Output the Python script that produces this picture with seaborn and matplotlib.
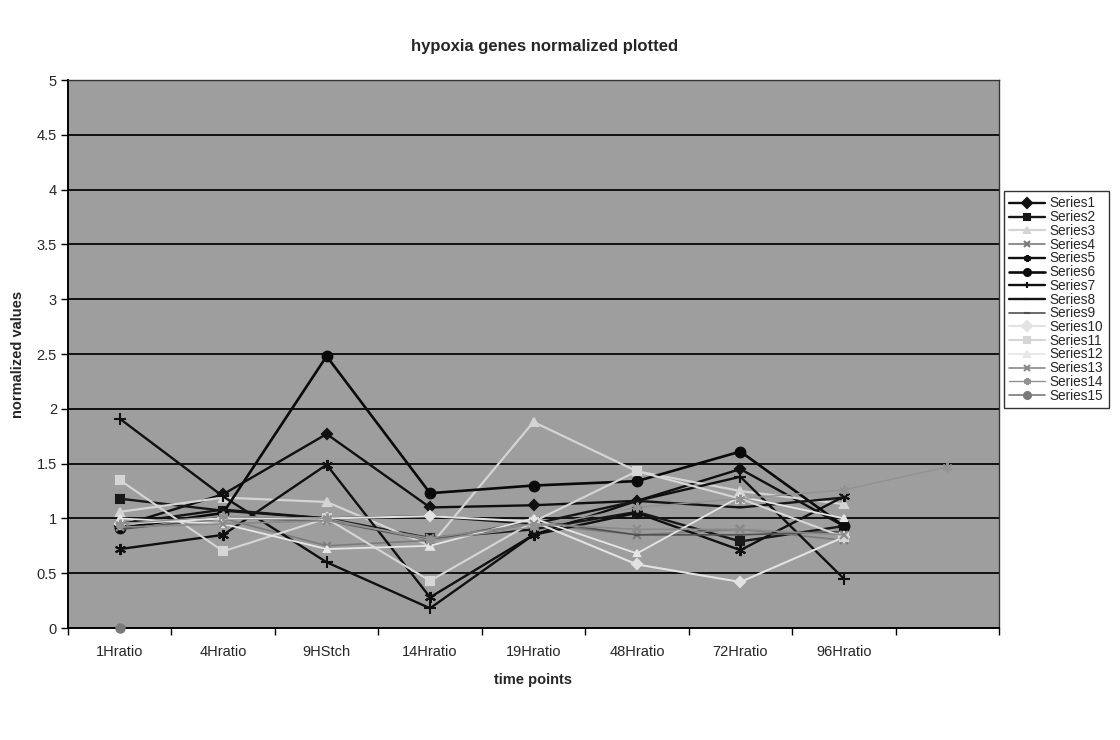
import numpy as np
import pandas as pd
import matplotlib
matplotlib.use("Agg")
import matplotlib.pyplot as plt
import seaborn as sns

# Time points on the category axis (the last slot is left unlabeled)
time_points = ["1Hratio", "4Hratio", "9HStch", "14Hratio", "19Hratio",
               "48Hratio", "72Hratio", "96Hratio", ""]

nan = np.nan
series1 = [0.93, 1.22, 1.77, 1.10, 1.12, 1.16, 1.45, 0.93, nan]
series2 = [1.18, 1.07, 1.00, 0.82, 0.90, 1.06, 0.79, 0.93, nan]
series3 = [1.06, 1.19, 1.15, 0.75, 1.88, 1.43, 1.25, 1.13, nan]
series4 = [0.95, 1.00, 0.75, 0.80, 0.95, 0.85, 0.90, 0.80, nan]
series5 = [0.72, 0.85, 1.49, 0.28, 0.85, 1.05, 0.71, 1.20, nan]
series6 = [0.91, 1.05, 2.48, 1.23, 1.30, 1.34, 1.61, 0.93, nan]
series7 = [1.91, 1.20, 0.60, 0.18, 0.85, 1.16, 1.38, 0.45, nan]
series8 = [0.95, 1.08, 1.00, 1.02, 0.95, 1.16, 1.10, 1.19, nan]
series9 = [0.90, 1.00, 0.98, 0.80, 0.98, 0.85, 0.85, 0.88, nan]
series10 = [0.95, 1.00, 1.00, 1.02, 0.97, 0.58, 0.42, 0.83, nan]
series11 = [1.35, 0.70, 1.00, 0.43, 0.97, 1.43, 1.18, 0.83, nan]
series12 = [1.00, 0.95, 0.72, 0.75, 1.00, 0.68, 1.20, 1.00, nan]
series13 = [0.92, 0.95, 0.98, 0.82, 0.95, 0.90, 0.90, 0.85, nan]
series14 = [0.95, 1.02, 1.00, 0.80, 0.92, 1.10, 1.18, 1.26, 1.47]
series15 = [0.00, nan, nan, nan, nan, nan, nan, nan, nan]

series_names = [f"Series{i}" for i in range(1, 16)]
series_values = [series1, series2, series3, series4, series5, series6, series7,
                 series8, series9, series10, series11, series12, series13,
                 series14, series15]

# Grayscale Excel-like marker/colour scheme
asterisk = (6, 2, 0)
styles = {
    "Series1": dict(color="#101010", marker="D", ms=5, lw=1.7),
    "Series2": dict(color="#181818", marker="s", ms=6, lw=1.7),
    "Series3": dict(color="#d4d4d4", marker="^", ms=6, lw=1.6),
    "Series4": dict(color="#7c7c7c", marker="x", ms=6, lw=1.2),
    "Series5": dict(color="#101010", marker=asterisk, ms=8, lw=1.7),
    "Series6": dict(color="#0a0a0a", marker="o", ms=7, lw=1.9),
    "Series7": dict(color="#101010", marker="+", ms=8, lw=1.7),
    "Series8": dict(color="#151515", marker="_", ms=5, lw=1.7),
    "Series9": dict(color="#505050", marker="_", ms=5, lw=1.2),
    "Series10": dict(color="#e2e2e2", marker="D", ms=5, lw=1.5),
    "Series11": dict(color="#d6d6d6", marker="s", ms=6, lw=1.5),
    "Series12": dict(color="#e6e6e6", marker="^", ms=5, lw=1.3),
    "Series13": dict(color="#8a8a8a", marker="x", ms=6, lw=1.2),
    "Series14": dict(color="#929292", marker=asterisk, ms=7, lw=1.0),
    "Series15": dict(color="#7a7a7a", marker="o", ms=6, lw=1.2),
}

records = []
for name, vals in zip(series_names, series_values):
    for pos, v in enumerate(vals):
        records.append({"series": name, "pos": pos, "value": v})
df = pd.DataFrame(records)

sns.set_theme(style="white")
plt.rcParams["font.family"] = ["Liberation Sans", "DejaVu Sans"]

fig = plt.figure(figsize=(11.2, 7.4), dpi=100)
ax = fig.add_axes([68 / 1120, 1 - 628 / 740, (999 - 68) / 1120, (628 - 80) / 740])
ax.set_facecolor("#9e9e9e")

for name in series_names:
    st = styles[name]
    sub = df[df["series"] == name].dropna()
    sns.lineplot(data=sub, x="pos", y="value", ax=ax, color=st["color"],
                 marker=st["marker"], markersize=st["ms"], linewidth=st["lw"],
                 markeredgecolor=st["color"], markerfacecolor=st["color"],
                 markeredgewidth=1.5, label=name, sort=False, zorder=3,
                 clip_on=False)

# Axis ranges and ticks
ax.set_xlim(-0.5, len(time_points) - 0.5)
ax.set_ylim(0, 5)
ax.set_yticks(np.arange(0, 5.01, 0.5))
ax.set_yticklabels(["0", "0.5", "1", "1.5", "2", "2.5", "3", "3.5", "4", "4.5", "5"],
                   fontsize=10.5)
ax.set_xticks(range(len(time_points)))
ax.set_xticklabels(time_points, fontsize=10.5)
ax.set_xticks(np.arange(-0.5, len(time_points), 1.0), minor=True)
ax.tick_params(axis="x", which="major", length=0, pad=12)
ax.tick_params(axis="x", which="minor", length=5, width=1, color="black",
               direction="out", bottom=True)
ax.tick_params(axis="y", which="major", length=5, width=1, color="black",
               direction="out", left=True, pad=3)

# Horizontal gridlines
for yv in np.arange(0.5, 5.01, 0.5):
    ax.axhline(yv, color="#111111", lw=1.4, zorder=1)

for side in ["left", "bottom"]:
    ax.spines[side].set_color("black")
    ax.spines[side].set_linewidth(1.4)
for side in ["top", "right"]:
    ax.spines[side].set_color("#333333")
    ax.spines[side].set_linewidth(1.0)

ax.set_xlabel("time points", fontsize=10.5, fontweight="bold", labelpad=10)
ax.set_ylabel("normalized values", fontsize=10.5, fontweight="bold", labelpad=8)

fig.text(545 / 1120, 1 - 47 / 740, "hypoxia genes normalized plotted",
         ha="center", va="center", fontsize=12, fontweight="bold")

handles, labels = ax.get_legend_handles_labels()
if ax.legend_ is not None:
    ax.legend_.remove()
leg = fig.legend(handles, labels, loc="upper left",
                 bbox_to_anchor=(1004 / 1120, 1 - 191 / 740),
                 fontsize=9.8, frameon=True, fancybox=False, edgecolor="black",
                 handlelength=2.6, handletextpad=0.35, labelspacing=-0.02,
                 handleheight=0.6, borderpad=0.4, borderaxespad=0)
leg.get_frame().set_linewidth(1.0)
for h in leg.legend_handles:
    h.set_markersize(5)

fig.savefig("out.png", dpi=100, facecolor="white")
